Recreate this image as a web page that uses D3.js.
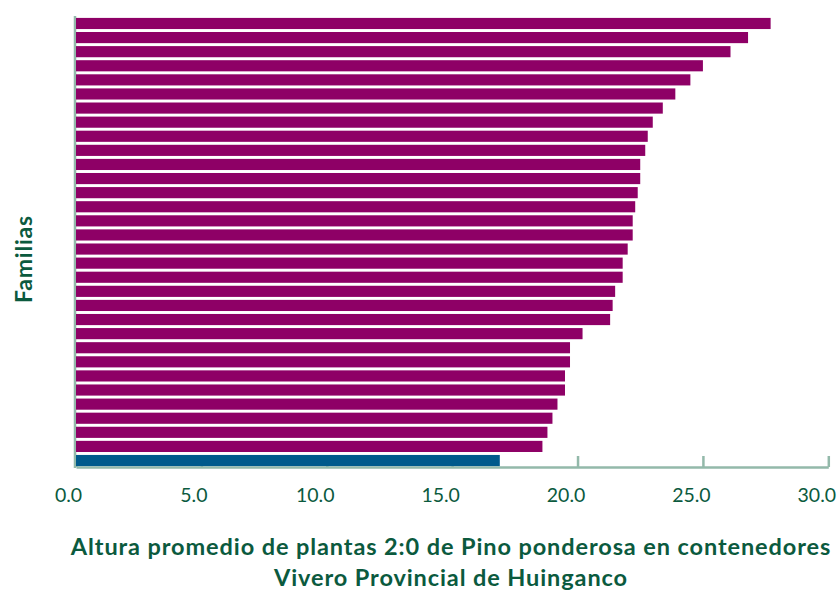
<!DOCTYPE html>
<html>
<head>
<meta charset="utf-8">
<script src="https://cdn.jsdelivr.net/npm/d3@7"></script>
<style>
  body { margin: 0; background: #fff; }
  text { font-family: Lato, "Open Sans", sans-serif; }
</style>
</head>
<body>
<script>
// global variables
var w = 839;
var h = 591;

// families, top to bottom (the last one is the blue bar)
var families = ["1", "2", "3", "4", "5", "6", "7", "8", "9", "10",
                "11", "12", "13", "14", "15", "16", "17", "18", "19", "20",
                "21", "22", "23", "24", "25", "26", "27", "28", "29", "30",
                "31", "Testigo"];

// average height (cm)
var alturas = [27.7, 26.8, 26.1, 25.0, 24.5, 23.9, 23.4, 23.0, 22.8, 22.7,
               22.5, 22.5, 22.4, 22.3, 22.2, 22.2, 22.0, 21.8, 21.8, 21.5,
               21.4, 21.3, 20.2, 19.7, 19.7, 19.5, 19.5, 19.2, 19.0, 18.8,
               18.6, 16.9];

var highlight = "Testigo";

var xTicks = [0, 5, 10, 15, 20, 25, 30];

var titleLines = ["Altura promedio de plantas 2:0 de Pino ponderosa en contenedores",
                  "Vivero Provincial de Huinganco"];

var yLabel = "Familias";

// colours
var barColor = "#8e0066";
var highColor = "#005a8c";
var axisColor = "#93b9aa";
var textColor = "#0b5a3e";

var data = families.map(function(f, i) {
  return { familia: f, altura: alturas[i] };
});

var svg = d3.select("body")
            .append("svg")
            .attr("width", w)
            .attr("height", h);

var xScale = d3.scaleLinear()
               .domain([0, 30])
               .range([76, 828.3]);

var yScale = d3.scaleBand()
               .domain(families)
               .range([16.5, 467.5])
               .paddingInner(0.21)
               .paddingOuter(0.1);

// x axis, ticks pointing up
var xAxis = d3.axisBottom(xScale)
              .tickValues(xTicks)
              .tickSizeInner(-11)
              .tickSizeOuter(0)
              .tickFormat(d3.format(".1f"));

var gx = svg.append("g")
            .attr("transform", "translate(0,467)")
            .call(xAxis);

gx.select(".domain")
  .attr("stroke", axisColor)
  .attr("stroke-width", 2.5);

gx.selectAll(".tick line")
  .attr("stroke", axisColor)
  .attr("stroke-width", 2.5);

gx.selectAll(".tick text")
  .attr("fill", textColor)
  .attr("font-size", "19.5px")
  .attr("y", 34.5)
  .attr("dy", 0)
  .attr("dx", function(d) { return d < 10 ? -8 : -12; });

// left axis line
svg.append("line")
   .attr("x1", xScale(0) - 1)
   .attr("x2", xScale(0) - 1)
   .attr("y1", 16)
   .attr("y2", 468)
   .attr("stroke", axisColor)
   .attr("stroke-width", 2.5);

// bars
svg.selectAll("rect.bar")
   .data(data)
   .enter()
   .append("rect")
   .attr("class", "bar")
   .attr("x", xScale(0))
   .attr("y", function(d) { return yScale(d.familia); })
   .attr("width", function(d) { return xScale(d.altura) - xScale(0); })
   .attr("height", yScale.bandwidth())
   .attr("fill", function(d) {
       return d.familia == highlight ? highColor : barColor;
   });

// y label
svg.append("text")
   .attr("transform", "translate(32,259) rotate(-90)")
   .attr("text-anchor", "middle")
   .attr("fill", textColor)
   .attr("font-size", "23px")
   .attr("font-weight", "bold")
   .attr("letter-spacing", "0.8px")
   .text(yLabel);

// title
var title = svg.selectAll("text.title")
   .data(titleLines)
   .enter()
   .append("text")
   .attr("class", "title")
   .attr("x", 451)
   .attr("y", function(d, i) { return 554.5 + i * 31.5; })
   .attr("text-anchor", "middle")
   .attr("fill", textColor)
   .attr("font-size", "23.5px")
   .attr("font-weight", "bold")
   .attr("letter-spacing", "0.9px")
   .text(function(d) { return d; });
</script>
</body>
</html>
